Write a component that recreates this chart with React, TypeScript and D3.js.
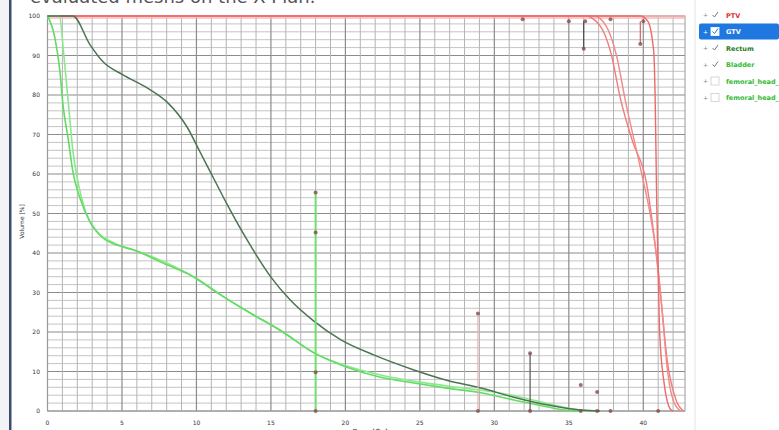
import React from "react";
import * as d3 from "d3";

// dose [Gy], volume [%]
const rectumDvh: [number, number][] = [
  [0, 100], [1.7, 100], [2.86, 92.7], [3.73, 88.4], [5.07, 85.1], [6.69, 81.8],
  [8.03, 78.2], [9.37, 71.9], [10.25, 65.5], [11.1, 59.3], [12.06, 52.3],
  [13.4, 43.3], [15.0, 33.9], [16.3, 28.1], [17.8, 23], [19.7, 18],
  [21.9, 14.2], [24.6, 10.4], [26.8, 7.8], [29.1, 5.8], [31.3, 3.5],
  [33.6, 1.5], [35.8, 0.25], [37.1, 0],
];

const bladderDvhA: [number, number][] = [
  [0, 100], [0.5, 94.4], [0.84, 85.8], [1.04, 77.5], [1.38, 69.1], [1.71, 60.5],
  [2.18, 53.9], [2.86, 47.8], [3.73, 43.8], [4.67, 42], [5.75, 40.8],
  [8.03, 37], [9.58, 34.4], [11.4, 29.9], [13.6, 24.8], [15.6, 20.5],
  [17.8, 14.9], [20.1, 11.1], [22.3, 8.6], [24.6, 7.1], [26.8, 5.8],
  [29.1, 4.6], [31.3, 2.8], [33.6, 1.0], [34.7, 0.25], [35.8, 0],
];

const bladderDvhB: [number, number][] = [
  [0, 100], [0.8, 100], [1.1, 90], [1.4, 78], [1.7, 66], [2.1, 57], [2.6, 50],
  [3.3, 45.5], [4.5, 42.5], [6, 40.5], [8, 37.5], [10, 33.6], [12, 28.5],
  [14, 24], [16, 19.5], [18, 14.5], [20, 11.5], [22.5, 9], [25, 7.3],
  [27.5, 6], [30, 4.8], [32, 3.3], [34, 1.5], [35.5, 0.4], [37, 0],
];

const ptvDvhA: [number, number][] = [
  [0, 100], [36.1, 100], [37.1, 97.5], [37.8, 91], [38.5, 78.5], [39.3, 68],
  [40.2, 58], [40.7, 45], [41.2, 28], [41.6, 13], [42.2, 2.8], [42.7, 0],
];

const ptvDvhB: [number, number][] = [
  [0, 100], [36.7, 100], [37.5, 97.5], [38.2, 90], [38.8, 78.5], [39.8, 61.6],
  [40.5, 49], [41.0, 36], [41.3, 23.7], [41.6, 11], [42.0, 2.8], [42.5, 0],
];

const gtvDvh: [number, number][] = [
  [0, 100], [39.8, 100], [40.3, 98.7], [40.7, 91], [40.8, 78.5], [40.9, 53],
  [41.0, 36], [41.1, 19.7], [41.4, 7], [41.85, 0.3], [42.0, 0],
];

// constraint markers
const markerPoints: [number, number][] = [
  [18.0, 55.3], [18.0, 45.2], [18.0, 9.8], [18.0, 0],
  [28.9, 24.7], [28.9, 0], [32.4, 14.6], [32.4, 0],
  [31.9, 99.2], [35.0, 98.7], [36.1, 98.7], [36.0, 91.7], [37.8, 99.2],
  [40.0, 98.7], [39.8, 92.9], [35.8, 6.6], [36.9, 4.8],
  [35.8, 0], [36.9, 0], [37.8, 0], [41.0, 0],
];
const markerBars: [number, number, number][] = [
  [18.0, 55.3, 0], [28.9, 24.7, 0], [32.4, 14.6, 0], [36.0, 98.7, 91.7], [39.8, 98.7, 92.9],
];
const markerBarColors = ["#6ee06e", "#e8b0b0", "#555555", "#444444", "#d06060"];

const xTicks = [0, 5, 10, 15, 20, 25, 30, 35, 40];
const yTicks = [0, 10, 20, 30, 40, 50, 60, 70, 80, 90, 100];

const legendLabels = ["PTV", "GTV", "Rectum", "Bladder", "femoral_head_l", "femoral_head_r"];
const legendColors = ["#e03030", "#ffffff", "#1f7a1f", "#33bb33", "#33bb33", "#33bb33"];
const legendChecked = [true, true, true, true, false, false];

const W = 779;
const H = 430;

export default function App() {
  const x = d3.scaleLinear().domain([0, 42.8]).range([47.5, 685]);
  const y = d3.scaleLinear().domain([0, 100]).range([411, 16]);
  const line = d3
    .line<[number, number]>()
    .x((d) => x(d[0]))
    .y((d) => y(d[1]))
    .curve(d3.curveMonotoneX);

  const vGrid = d3.range(0, 43, 1);
  const hGrid = d3.range(0, 101, 2);

  const series = [
    { data: ptvDvhA, color: "#f07c7c", w: 1.4 },
    { data: ptvDvhB, color: "#f28a8a", w: 1.4 },
    { data: gtvDvh, color: "#ec6a6a", w: 1.4 },
    { data: bladderDvhB, color: "#8ce88c", w: 1.6 },
    { data: bladderDvhA, color: "#62dc62", w: 1.6 },
    { data: rectumDvh, color: "#4c7452", w: 1.5 },
  ];

  return (
    <svg
      width={W}
      height={H}
      style={{ position: "absolute", left: 0, top: 0, background: "#fff" }}
      fontFamily="DejaVu Sans, sans-serif"
    >
      <rect x={0} y={0} width={W} height={H} fill="#ffffff" />
      {/* window frame on the left */}
      <rect x={0} y={0} width={9} height={H} fill="#f2f3f6" />
      <rect x={9} y={0} width={2.5} height={H} fill="#3c4c70" />

      {/* title, cut at top as in the screenshot */}
      <text x={30} y={3} fontSize={18} fill="#555" fontFamily="DejaVu Sans, sans-serif">
        evaluated meshs on the X-Plan:
      </text>

      {/* grid */}
      {hGrid.map((v) => (
        <line
          key={"h" + v}
          x1={x(0)}
          x2={x(42.8)}
          y1={y(v)}
          y2={y(v)}
          stroke={v % 10 === 0 ? "#8c8c8c" : "#c4c4c4"}
          strokeWidth={v % 10 === 0 ? 1.2 : 1}
        />
      ))}
      {vGrid.map((d) => (
        <line
          key={"v" + d}
          x1={x(d)}
          x2={x(d)}
          y1={y(0)}
          y2={y(100)}
          stroke={d % 5 === 0 ? "#8c8c8c" : "#b4b4b4"}
          strokeWidth={d % 5 === 0 ? 1.2 : 1}
        />
      ))}
      <rect
        x={x(0)}
        y={y(100)}
        width={x(42.8) - x(0)}
        height={y(0) - y(100)}
        fill="none"
        stroke="#9a9a9a"
      />
      {/* pink band at 100% */}
      <rect x={x(0)} y={y(100) - 1} width={x(42.8) - x(0)} height={4} fill="#f6b4b4" opacity={0.7} />

      {/* curves */}
      {series.map((s, i) => (
        <path key={i} d={line(s.data) || ""} fill="none" stroke={s.color} strokeWidth={s.w} />
      ))}

      {/* constraint bars and markers */}
      {markerBars.map((b, i) => (
        <line
          key={"b" + i}
          x1={x(b[0])}
          x2={x(b[0])}
          y1={y(b[1])}
          y2={y(b[2])}
          stroke={markerBarColors[i]}
          strokeWidth={i === 0 ? 2 : 1.2}
        />
      ))}
      {markerPoints.map((p, i) => (
        <circle key={"m" + i} cx={x(p[0])} cy={y(p[1])} r={2} fill="#8a4a4a" opacity={0.8} />
      ))}

      {/* axes labels */}
      {yTicks.map((v) => (
        <text key={"yt" + v} x={40} y={y(v) + 2} fontSize={6} textAnchor="end" fill="#333">
          {v}
        </text>
      ))}
      {xTicks.map((d) => (
        <text key={"xt" + d} x={x(d)} y={425} fontSize={6} textAnchor="middle" fill="#333">
          {d}
        </text>
      ))}
      <text
        transform={`translate(24,${y(48)}) rotate(-90)`}
        fontSize={6}
        textAnchor="middle"
        fill="#333"
      >
        Volume [%]
      </text>
      <text x={370} y={434} fontSize={7} textAnchor="middle" fill="#333">
        Dose [Gy]
      </text>

      {/* legend tree */}
      <line x1={695} x2={695} y1={0} y2={H} stroke="#e2e2e2" />
      {legendLabels.map((lab, i) => {
        const cy = 15 + i * 16.5;
        const sel = i === 1;
        return (
          <g key={lab}>
            {sel && <rect x={699} y={cy - 8} width={80} height={16} rx={2} fill="#1e78e0" />}
            <text x={703} y={cy + 2} fontSize={6} fill={sel ? "#fff" : "#888"}>
              +
            </text>
            <rect
              x={711}
              y={cy - 4}
              width={8}
              height={8}
              fill="#fff"
              stroke={sel ? "#fff" : legendChecked[i] ? "none" : "#ccc"}
              strokeWidth={0.8}
            />
            {legendChecked[i] && (
              <path
                d={`M${712.5},${cy} L${714.5},${cy + 2} L${718},${cy - 3}`}
                fill="none"
                stroke={sel ? "#1e78e0" : "#6a7a90"}
                strokeWidth={1}
              />
            )}
            <text x={726} y={cy + 2.5} fontSize={6.5} fontWeight="bold" fill={legendColors[i]}>
              {lab}
            </text>
          </g>
        );
      })}
    </svg>
  );
}
